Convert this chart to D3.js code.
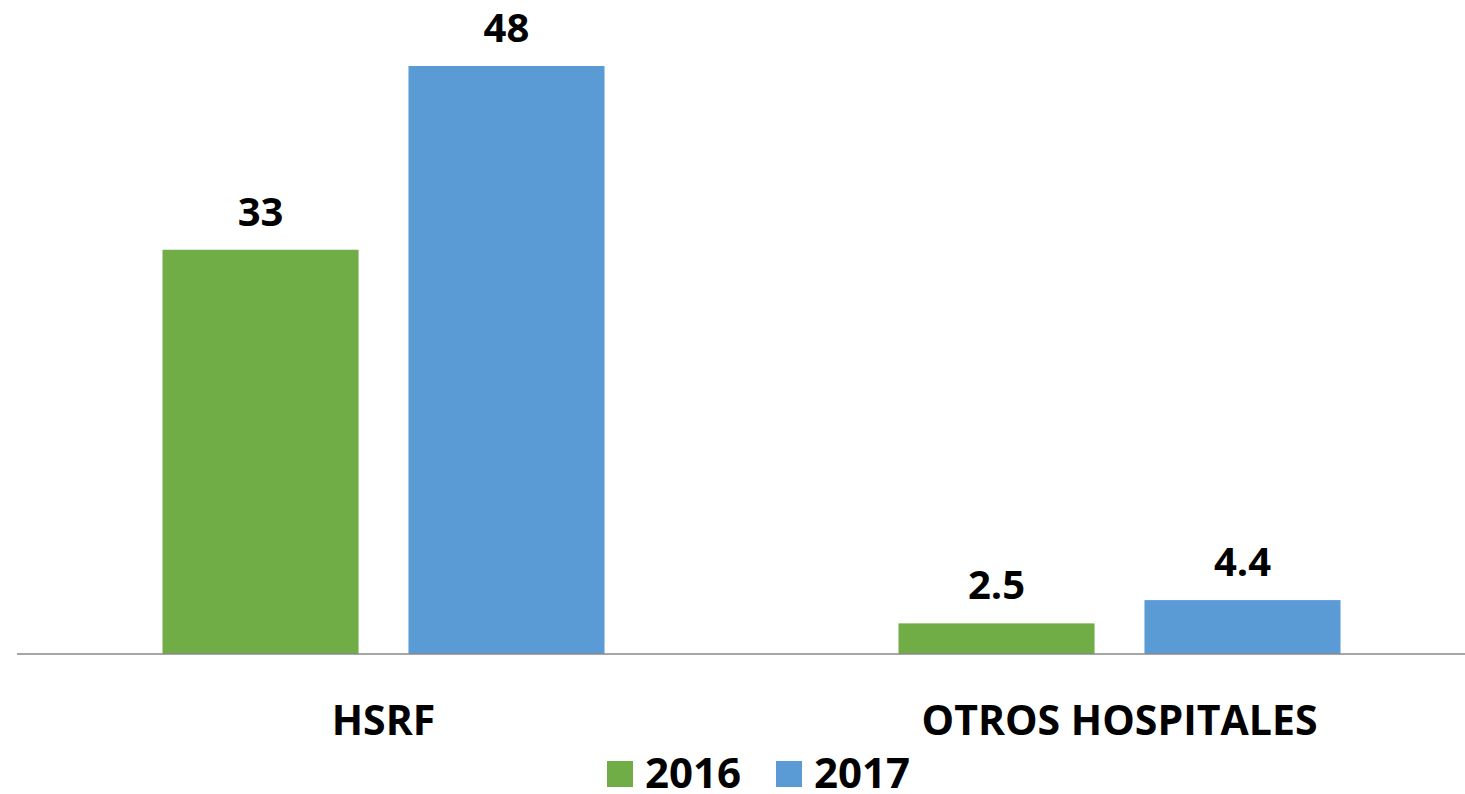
<!DOCTYPE html>
<html>
<head>
<meta charset="utf-8">
<script src="https://cdn.jsdelivr.net/npm/d3@7"></script>
<style>
  body { margin: 0; background: #fff; }
  text { font-family: "Open Sans", "Noto Sans", sans-serif; font-weight: bold; fill: #000; }
</style>
</head>
<body>
<svg width="1465" height="794"></svg>
<script>
var categories = ["HSRF", "OTROS HOSPITALES"];
var series = ["2016", "2017"];
var values2016 = [33, 2.5];
var values2017 = [48, 4.4];
var colors = ["#70AD47", "#5B9BD5"];

var svg = d3.select("svg"),
    width = +svg.attr("width"),
    height = +svg.attr("height");

var rows = categories.map(function(c, i) {
  return { cat: c, vals: [
    { s: series[0], v: values2016[i] },
    { s: series[1], v: values2017[i] }
  ]};
});

var x0 = d3.scaleBand().domain(categories).range([15.5, 1487.5]);
var x1 = d3.scaleBand().domain(series).range([147, 589]).paddingInner(0.203);
var y = d3.scaleLinear().domain([0, 48]).range([654, 66]);
var color = d3.scaleOrdinal().domain(series).range(colors);

var groups = svg.append("g")
  .selectAll("g")
  .data(rows)
  .enter().append("g")
  .attr("transform", function(d) { return "translate(" + x0(d.cat) + ",0)"; });

groups.selectAll("rect")
  .data(function(d) { return d.vals; })
  .enter().append("rect")
  .attr("x", function(d) { return x1(d.s); })
  .attr("y", function(d) { return y(d.v); })
  .attr("width", x1.bandwidth())
  .attr("height", function(d) { return y(0) - y(d.v); })
  .attr("fill", function(d) { return color(d.s); });

groups.selectAll("text.val")
  .data(function(d) { return d.vals; })
  .enter().append("text")
  .attr("class", "val")
  .attr("x", function(d) { return x1(d.s) + x1.bandwidth() / 2; })
  .attr("y", function(d) { return y(d.v) - 24; })
  .attr("text-anchor", "middle")
  .style("font-size", "40px")
  .text(function(d) { return d.v; });

// baseline
svg.append("line")
  .attr("x1", 17).attr("x2", width)
  .attr("y1", y(0)).attr("y2", y(0))
  .attr("stroke", "#898989")
  .attr("stroke-width", 1.5);

// category labels
svg.append("g")
  .selectAll("text")
  .data(categories)
  .enter().append("text")
  .attr("x", function(d) { return x0(d) + x0.bandwidth() / 2; })
  .attr("y", 735)
  .attr("text-anchor", "middle")
  .style("font-size", "41px")
  .text(function(d) { return d; });

// legend
var legendX = [607, 776];
var legend = svg.append("g")
  .selectAll("g")
  .data(series)
  .enter().append("g")
  .attr("transform", function(d, i) { return "translate(" + legendX[i] + ",761)"; });

legend.append("rect")
  .attr("width", 26).attr("height", 26)
  .attr("fill", function(d) { return color(d); });

legend.append("text")
  .attr("x", 38)
  .attr("y", 27)
  .style("font-size", "42px")
  .text(function(d) { return d; });
</script>
</body>
</html>
